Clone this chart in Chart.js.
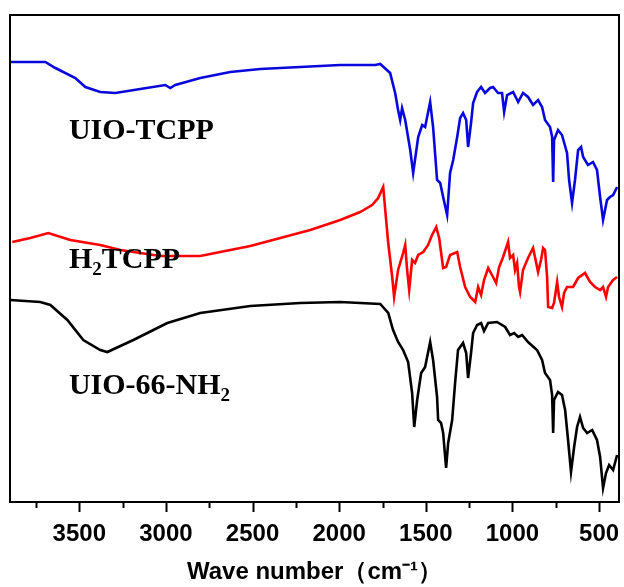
<!DOCTYPE html>
<html>
<head>
<meta charset="utf-8">
<script src="https://cdn.jsdelivr.net/npm/chart.js@4.4.1/dist/chart.umd.min.js"></script>
<style>
  html, body { margin: 0; padding: 0; background: #fff; }
  #wrap { width: 624px; height: 587px; }
</style>
</head>
<body>
<div id="wrap"><canvas id="chartFTIR"></canvas></div>
<script>
// wave numbers (cm-1) and offset transmittance (a.u.)
const wnTCPP = [3898, 3696, 3638, 3523, 3465, 3379, 3292, 3148, 3004, 2975, 2946, 2802, 2629, 2456, 2225, 2110, 1994, 1792, 1763,
  1706, 1677, 1660, 1648, 1637, 1619, 1590, 1573, 1544, 1521, 1504, 1475, 1458, 1435, 1417, 1400, 1377, 1360, 1342, 1319,
  1302, 1285, 1267, 1256, 1239, 1227, 1204, 1181, 1158, 1129, 1112, 1083, 1060, 1048, 1031, 996, 967, 939, 910, 881, 852,
  829, 812, 783, 771, 765, 760, 737, 714, 685, 673, 656, 639, 621, 604, 592, 564, 535, 512, 494, 477, 454, 437, 419, 396]
const tUIOTCPP = [440, 440, 434, 424, 415, 410, 409, 413, 417, 414, 417, 424, 430, 433, 435, 436, 437, 437, 438,
  429, 409, 392, 382, 394, 382, 352, 329, 365, 377, 375, 400, 375, 322, 319, 305, 287, 329, 342, 365,
  384, 389, 382, 355, 379, 399, 410, 415, 409, 414, 415, 409, 409, 390, 407, 410, 400, 409, 405, 397, 402,
  395, 382, 375, 365, 320, 362, 372, 367, 349, 322, 299, 322, 352, 355, 345, 337, 340, 332, 305, 282, 302, 305, 307, 315]

const wnH2 = [3887, 3783, 3679, 3552, 3379, 3263, 3033, 2802, 2687, 2513, 2340, 2167, 1994, 1879, 1810, 1775, 1746,
  1717, 1694, 1683, 1660, 1631, 1619, 1608, 1596, 1579, 1562, 1544, 1515, 1487, 1464, 1440, 1423, 1400, 1383, 1360,
  1319, 1302, 1273, 1244, 1215, 1198, 1181, 1164, 1140, 1112, 1094, 1077, 1054, 1025, 1014, 996, 985, 973, 962, 956,
  939, 910, 881, 864, 852, 835, 823, 812, 800, 794, 771, 760, 742, 731, 714, 702, 685, 650, 621, 581, 552, 523, 494,
  477, 460, 448, 419, 396]
const tH2TCPP = [260, 264, 269, 262, 257, 252, 246, 246, 250, 256, 264, 272, 282, 290, 297, 304, 315,
  259, 225, 205, 232, 249, 257, 232, 212, 242, 239, 247, 250, 257, 267, 275, 264, 234, 235, 247,
  250, 235, 215, 205, 200, 215, 207, 222, 234, 225, 219, 235, 245, 260, 244, 247, 232, 239, 215, 210,
  232, 244, 254, 240, 230, 242, 254, 252, 225, 195, 194, 199, 220, 205, 195, 209, 215, 215, 224, 229, 220, 215, 212,
  215, 205, 215, 222, 225]

const wnNH2 = [3898, 3725, 3667, 3569, 3477, 3379, 3338, 3188, 2992, 2802, 2513, 2225, 1994, 1763, 1717, 1689, 1660,
  1631, 1602, 1579, 1567, 1550, 1527, 1504, 1475, 1458, 1435, 1429, 1412, 1400, 1383, 1371, 1348, 1331, 1314, 1285,
  1267, 1256, 1239, 1227, 1204, 1181, 1164, 1140, 1089, 1042, 1014, 990, 967, 944, 910, 858, 829, 812, 783, 771, 765,
  760, 737, 714, 696, 679, 662, 644, 627, 610, 592, 569, 540, 512, 494, 477, 460, 442, 419, 396]
const tUIO66NH2 = [202, 200, 197, 182, 162, 152, 150, 162, 179, 189, 196, 199, 200, 198, 189, 172, 160,
  152, 140, 109, 75, 102, 129, 135, 160, 142, 105, 82, 79, 69, 34, 59, 82, 119, 152, 159,
  149, 124, 149, 169, 177, 179, 171, 179, 180, 175, 167, 169, 165, 167, 160, 152, 142, 129, 122, 107, 69,
  102, 110, 107, 92, 62, 30, 55, 75, 85, 74, 69, 72, 62, 45, 14, 29, 37, 32, 47]

const majorTicks = [500, 1000, 1500, 2000, 2500, 3000, 3500]
const minorTicks = [750, 1250, 1750, 2250, 2750, 3250, 3750]

function pts(xs, ys) {
    return xs.map((x, i) => ({ x: x, y: ys[i] }));
}

// frame, minor/major tick marks and the series names
const decorations = {
    id: 'decorations',
    afterDraw(chart) {
        const ctx = chart.ctx;
        const a = chart.chartArea;
        const xs = chart.scales.x;
        const ys = chart.scales.y;
        ctx.save();
        ctx.strokeStyle = '#000';
        ctx.lineWidth = 2;
        ctx.strokeRect(a.left, a.top, a.right - a.left, a.bottom - a.top);
        ctx.beginPath();
        majorTicks.forEach(v => {
            const px = Math.round(xs.getPixelForValue(v)) + 0.5;
            ctx.moveTo(px, a.bottom); ctx.lineTo(px, a.bottom + 10);
        });
        minorTicks.forEach(v => {
            const px = Math.round(xs.getPixelForValue(v)) + 0.5;
            ctx.moveTo(px, a.bottom); ctx.lineTo(px, a.bottom + 6);
        });
        ctx.stroke();

        ctx.fillStyle = '#000';
        ctx.textBaseline = 'alphabetic';
        const big = 'bold 30px "Liberation Serif", "Times New Roman", serif';
        const small = 'bold 19px "Liberation Serif", "Times New Roman", serif';
        function label(parts, wn, val) {
            let x = xs.getPixelForValue(wn);
            const y = ys.getPixelForValue(val);
            parts.forEach(p => {
                ctx.font = p.sub ? small : big;
                ctx.fillText(p.t, x, p.sub ? y + 7 : y);
                x += ctx.measureText(p.t).width;
            });
        }
        label([{ t: 'UIO-TCPP' }], 3560, 363);
        label([{ t: 'H' }, { t: '2', sub: true }, { t: 'TCPP' }], 3560, 234);
        label([{ t: 'UIO-66-NH' }, { t: '2', sub: true }], 3560, 108);
        ctx.restore();
    }
};

var ctxFTIR = document.getElementById('chartFTIR').getContext('2d');
var chartFTIR = new Chart(ctxFTIR, {
    type: 'line',
    data: {
        datasets: [
            { label: 'UIO-TCPP', data: pts(wnTCPP, tUIOTCPP), borderColor: '#0808dc' },
            { label: 'H2TCPP', data: pts(wnH2, tH2TCPP), borderColor: '#ff0000' },
            { label: 'UIO-66-NH2', data: pts(wnNH2, tUIO66NH2), borderColor: '#000000' }
        ]
    },
    options: {
        responsive: true,
        maintainAspectRatio: false,
        animation: false,
        datasets: { line: { borderWidth: 2.6, pointRadius: 0, tension: 0, fill: false } },
        layout: { padding: { left: 10, right: 5, top: 15, bottom: 0 } },
        plugins: { legend: { display: false }, tooltip: { enabled: false } },
        scales: {
            x: {
                type: 'linear',
                reverse: true,
                min: 385,
                max: 3900,
                afterBuildTicks: s => { s.ticks = majorTicks.map(v => ({ value: v })); },
                afterFit: s => { s.height = 85; },
                grid: { display: false, drawTicks: false },
                border: { display: false },
                ticks: {
                    padding: 18,
                    maxRotation: 0,
                    color: '#000',
                    callback: v => String(v),
                    font: { family: '"Liberation Sans", Arial, sans-serif', size: 24, weight: 'bold' }
                },
                title: {
                    display: true,
                    text: 'Wave number（cm⁻¹）',
                    color: '#000',
                    padding: { top: 6, bottom: 0 },
                    font: { family: '"Liberation Sans", Arial, sans-serif', size: 24, weight: 'bold' }
                }
            },
            y: {
                display: false,
                min: 0,
                max: 487
            }
        }
    },
    plugins: [decorations]
});
</script>
</body>
</html>
